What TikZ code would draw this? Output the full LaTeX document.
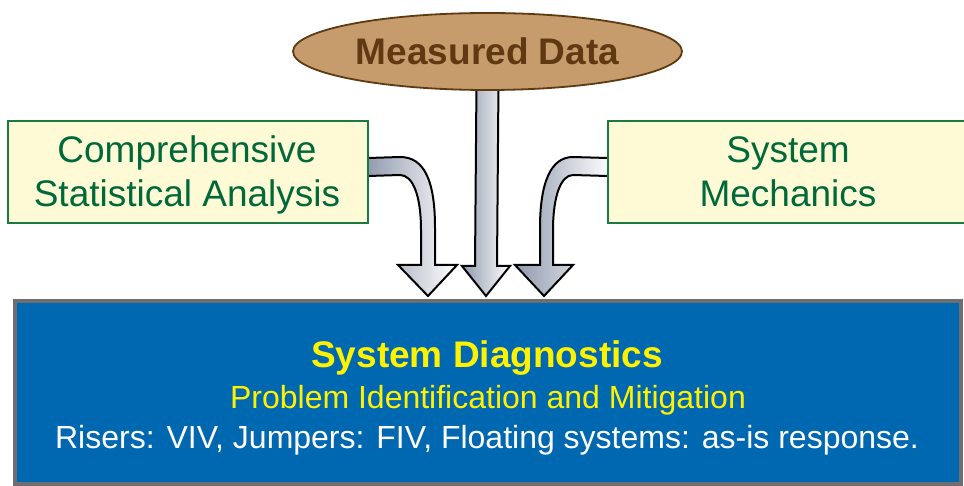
\documentclass[tikz,border=0pt]{standalone}
\usepackage{fontspec}
\setmainfont{Liberation Sans}
\usetikzlibrary{shapes.geometric,calc}
\definecolor{tanfill}{HTML}{C69C6D}
\definecolor{brownline}{HTML}{5E3A12}
\definecolor{browntext}{HTML}{603913}
\definecolor{boxfill}{HTML}{FFFAD6}
\definecolor{boxline}{HTML}{1B7A42}
\definecolor{greentext}{HTML}{00693A}
\definecolor{diagblue}{HTML}{0067B1}
\definecolor{diagline}{HTML}{6D6E71}
\definecolor{diagyellow}{HTML}{FFF200}
\definecolor{arrowdark}{HTML}{8F99AD}
\pgfdeclarelayer{background}
\pgfsetlayers{background,main}
\tikzset{
  inbox/.style={draw=boxline, line width=2.2pt, fill=boxfill, inner sep=0pt, minimum height=102pt},
  boxtext/.style={anchor=base, text=greentext, font=\fontsize{37}{44}\selectfont, inner sep=0pt},
  fatarrow/.style={draw=black, line width=2pt, line join=miter, left color=arrowdark, right color=white},
}
\begin{document}
\begin{tikzpicture}[x=1pt,y=-1pt]
\useasboundingbox (0,0) rectangle (964,486);
% boxes
\node[inbox, minimum width=360pt, anchor=north west] (csa) at (7,120) {};
\node[boxtext] (csa1) at (187,163) {Comprehensive};
\node[boxtext] (csa2) at (187,207) {Statistical Analysis};
\node[inbox, minimum width=366pt, anchor=north west] (sm) at (607,120) {};
\node[boxtext] (sm1) at (788,163) {System};
\node[boxtext] (sm2) at (788,207) {Mechanics};
% measured data
\node[ellipse, draw=brownline, line width=1.8pt, fill=tanfill, minimum width=389pt, minimum height=77pt, inner sep=0pt,
      text=browntext, font=\bfseries\fontsize{37}{40}\selectfont] (md) at (487.5,51.5) {Measured Data};
% diagnostics
\node[draw=diagline, line width=4pt, fill=diagblue, minimum width=946pt, minimum height=183pt, anchor=north west, inner sep=0pt] (sd) at (13,299) {};
\node[anchor=base, inner sep=0pt, text=diagyellow, font=\bfseries\fontsize{37}{40}\selectfont] (sdt1) at (487,367) {System Diagnostics};
\node[anchor=base, inner sep=0pt, text=diagyellow, font=\fontsize{32}{36}\selectfont] (sdt2) at (488,408) {Problem Identification and Mitigation};
\node[anchor=base, inner sep=0pt, text=white, font=\fontsize{32}{36}\selectfont] (sdt3) at (487,448) {Risers: VIV, Jumpers: FIV, Floating systems: as-is response.};
% arrow tips
\coordinate (tipL) at (428,296);
\coordinate (tipC) at (486,296);
\coordinate (tipR) at (544,296);
\begin{pgfonlayer}{background}
\draw[fatarrow] ($(md.south)+(-11,-10)$) -- (475,266) -- (462,266) -- (tipC) -- (510,266) -- (497,266) -- ($(md.south)+(11,-10)$) -- cycle;
\draw[fatarrow] ($(csa.east)+(-4,-14)$) -- (400,157) .. controls (425,157) and (435,182) .. (435,228) -- (435,265) -- (457,265) -- (tipL) -- (398,265) -- (421,265) -- (421,230) .. controls (421,196) and (413,175) .. (400,175) -- ($(csa.east)+(-4,4)$) -- cycle;
\draw[fatarrow] ($(sm.west)+(4,-14)$) -- (573,157) .. controls (551,157) and (540,182) .. (540,228) -- (540,265) -- (515,265) -- (tipR) -- (573,265) -- (553,265) -- (553,230) .. controls (553,196) and (561,175) .. (573,175) -- ($(sm.west)+(4,4)$) -- cycle;
\end{pgfonlayer}
\end{tikzpicture}
\end{document}
